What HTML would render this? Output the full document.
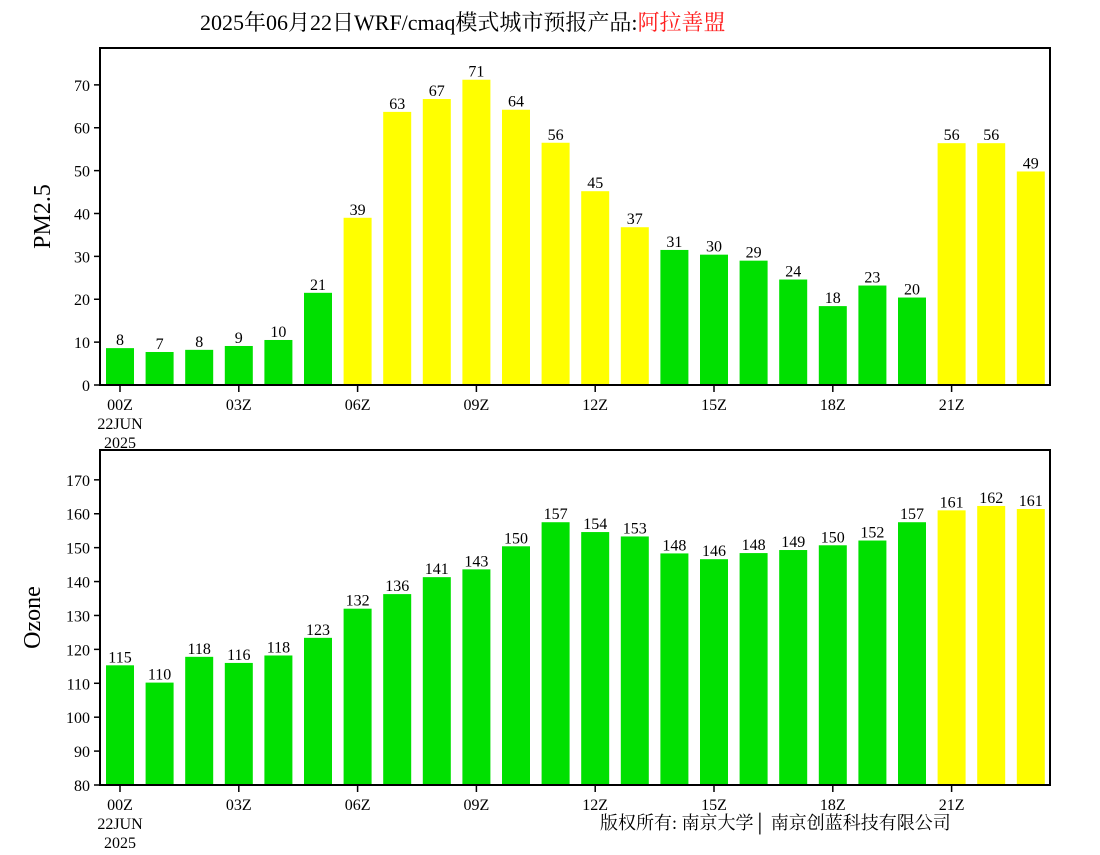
<!DOCTYPE html>
<html><head><meta charset="utf-8"><style>
body{margin:0;background:#fff;width:1100px;height:850px;overflow:hidden}
svg text{font-family:"Liberation Serif","Noto Serif CJK SC",serif}
</style></head><body>
<svg id="c" width="1100" height="850" xmlns="http://www.w3.org/2000/svg">
<text x="200" y="30" font-size="22">2025年06月22日WRF/cmaq模式城市预报产品:<tspan fill="#ff2020">阿拉善盟</tspan></text>
<text x="600" y="829" font-size="18">版权所有: 南京大学│ 南京创蓝科技有限公司</text>
</svg>
<script>
const hours = ["00Z","03Z","06Z","09Z","12Z","15Z","18Z","21Z"];
const pmValues = [8.6,7.7,8.2,9.1,10.5,21.5,39,63.7,66.7,71.2,64.2,56.5,45.2,36.8,31.5,30.4,29,24.6,18.4,23.2,20.4,56.4,56.4,49.8];
const pmLabels = [8,7,8,9,10,21,39,63,67,71,64,56,45,37,31,30,29,24,18,23,20,56,56,49];
const pmTicks = [0,10,20,30,40,50,60,70];
const o3Values = [115.3,110.2,117.8,116,118.2,123.4,132,136.3,141.3,143.6,150.4,157.5,154.6,153.3,148.3,146.6,148.4,149.3,150.7,152.1,157.5,161,162.3,161.4];
const o3Labels = [115,110,118,116,118,123,132,136,141,143,150,157,154,153,148,146,148,149,150,152,157,161,162,161];
const o3Ticks = [80,90,100,110,120,130,140,150,160,170];
const svg=document.getElementById('c');
const NS="http://www.w3.org/2000/svg";
function mk(tag,attrs,parent){const e=document.createElementNS(NS,tag);for(const k in attrs)e.setAttribute(k,attrs[k]);(parent||svg).appendChild(e);return e;}
function panel(name,top,bottom,vmin,vmax,values,labels,ticks,thresh,ylabel,ylx){
  const g=mk('g',{});
  
  
  const L=100,R=1050;
  const y=v=>bottom-(v-vmin)/(vmax-vmin)*(bottom-top);
  const x=i=>120+i*39.6;
  values.forEach((v,i)=>{
    const r=mk('rect',{x:x(i)-14,y:y(v),width:28,height:bottom-y(v),fill:v>thresh?'#ffff00':'#00e000'},g);
    
    
    const t=mk('text',{x:x(i),y:y(v)-3,'font-size':16,'text-anchor':'middle'},g);
    t.textContent=labels[i];
    
    
  });
  const f=mk('rect',{x:L,y:top,width:R-L,height:bottom-top,fill:'none',stroke:'#000','stroke-width':2},g);
  
  
  ticks.forEach(v=>{
    mk('line',{x1:L-6,x2:L,y1:y(v),y2:y(v),stroke:'#000','stroke-width':1.5},g);
    const t=mk('text',{x:L-10,y:y(v)+6,'font-size':16,'text-anchor':'end'},g);
    t.textContent=v;
    
    
  });
  hours.forEach((h,k)=>{
    const xx=x(k*3);
    mk('line',{x1:xx,x2:xx,y1:bottom,y2:bottom+7,stroke:'#000','stroke-width':1.5},g);
    const t=mk('text',{x:xx,y:bottom+25,'font-size':16,'text-anchor':'middle'},g);
    t.textContent=h;
    
    
  });
  ['22JUN','2025'].forEach((s,k)=>{
    const t=mk('text',{x:120,y:bottom+44+k*19,'font-size':16,'text-anchor':'middle'},g);
    t.textContent=s;
    
    
  });
  const yl=mk('text',{x:ylx,y:(top+bottom)/2,'font-size':24,'text-anchor':'middle',transform:`rotate(-90 ${ylx} ${(top+bottom)/2})`},g);
  yl.textContent=ylabel;
  
  
}
panel('pm25',48,385,0,78.6,pmValues,pmLabels,pmTicks,35,'PM2.5',50);
panel('ozone',450,785,80,178.8,o3Values,o3Labels,o3Ticks,160,'Ozone',40);
</script>
</body></html>
